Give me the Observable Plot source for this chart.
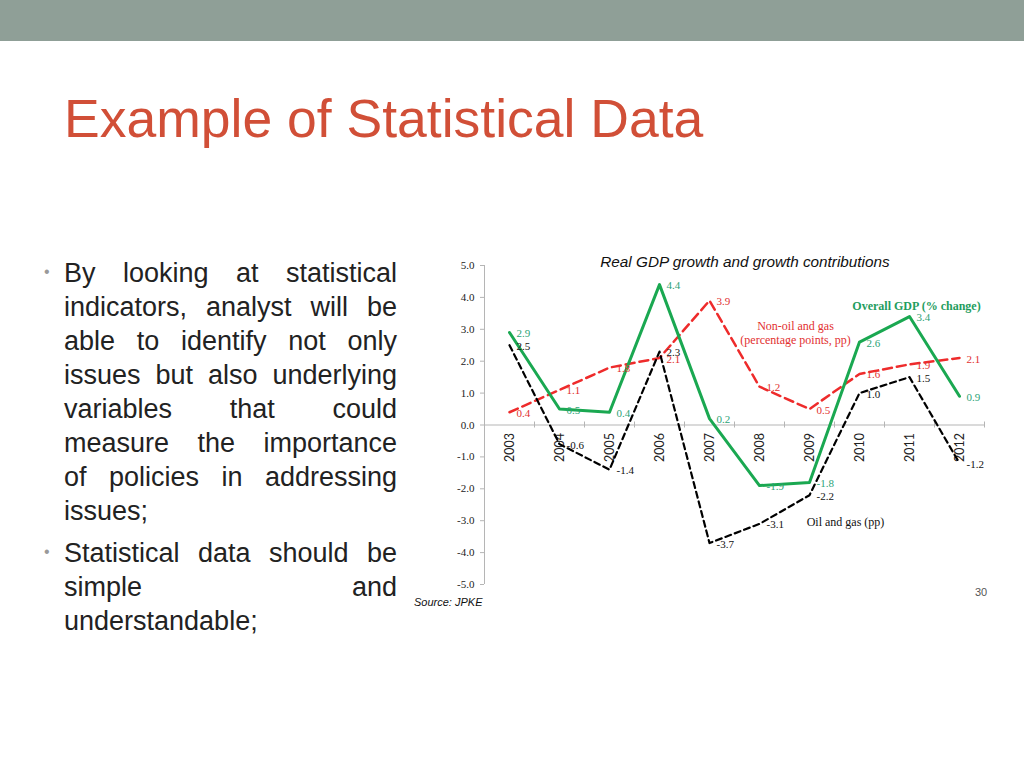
<!DOCTYPE html>
<html>
<head>
<meta charset="utf-8">
<script src="https://cdn.jsdelivr.net/npm/d3@7"></script>
<script src="https://cdn.jsdelivr.net/npm/@observablehq/plot@0.6"></script>
<style>
  html, body { margin: 0; padding: 0; background: #fff; }
  #page { position: relative; width: 1024px; height: 768px; overflow: hidden; background: #fff; }
  #band { position: absolute; left: 0; top: 0; width: 1024px; height: 41px; background: #8f9f97; }
  #title { position: absolute; left: 64px; top: 92px; font-family: "Liberation Sans", Arial, sans-serif; font-size: 53.5px; line-height: 53px; color: #d14f37; white-space: nowrap; }
  .para { position: absolute; left: 64px; width: 333px; font-family: "Liberation Sans", Arial, sans-serif; font-size: 27px; line-height: 34px; color: #222; }
  .para .ln { text-align: justify; text-align-last: justify; white-space: nowrap; }
  .para .ln.last { text-align-last: left; }
  .bullet { position: absolute; left: 44px; font-family: "Liberation Sans", Arial, sans-serif; font-size: 16px; color: #999; }
  #ctitle { position: absolute; left: 545px; width: 400px; top: 253px; text-align: center; font-family: "Liberation Sans", Arial, sans-serif; font-style: italic; font-size: 15.3px; color: #111; }
  #source { position: absolute; left: 414px; top: 596px; font-family: "Liberation Sans", Arial, sans-serif; font-style: italic; font-size: 11px; color: #111; }
  #pnum { position: absolute; left: 975px; top: 586px; font-family: "Liberation Sans", Arial, sans-serif; font-size: 11px; color: #555; }
  #chart { position: absolute; left: 400px; top: 250px; }
</style>
</head>
<body>
<div id="page">
  <div id="band"></div>
  <div id="title">Example of Statistical Data</div>
  <div class="bullet" style="top:263px">•</div>
  <div class="para" style="top:256px">
    <div class="ln">By looking at statistical</div>
    <div class="ln">indicators, analyst will be</div>
    <div class="ln">able to identify not only</div>
    <div class="ln">issues but also underlying</div>
    <div class="ln">variables that could</div>
    <div class="ln">measure the importance</div>
    <div class="ln">of policies in addressing</div>
    <div class="ln last">issues;</div>
  </div>
  <div class="bullet" style="top:543px">•</div>
  <div class="para" style="top:536px">
    <div class="ln">Statistical data should be</div>
    <div class="ln">simple and</div>
    <div class="ln last">understandable;</div>
  </div>
  <div id="ctitle">Real GDP growth and growth contributions</div>
  <div id="chart"></div>
  <div id="source">Source: JPKE</div>
  <div id="pnum">30</div>
</div>
<script>
const years = [2003, 2004, 2005, 2006, 2007, 2008, 2009, 2010, 2011, 2012];
const overallGDP = [2.9, 0.5, 0.4, 4.4, 0.2, -1.9, -1.8, 2.6, 3.4, 0.9];
const nonOilGas = [0.4, 1.1, 1.8, 2.1, 3.9, 1.2, 0.5, 1.6, 1.9, 2.1];
const oilGas = [2.5, -0.6, -1.4, 2.3, -3.7, -3.1, -2.2, 1.0, 1.5, -1.2];
const yTicks = [-5, -4, -3, -2, -1, 0, 1, 2, 3, 4, 5];

const seriesNames = ["Non-oil and gas", "Oil and gas", "Overall GDP"];
const seriesValues = [nonOilGas, oilGas, overallGDP];
const seriesLineColors = ["#ee2b2b", "#000000", "#1aa851"];
const seriesLabelColors = ["#e2302f", "#111111", "#2ca377"];

// series annotations (year, value positions in data space)
const annotations = [
  {year: 2011.14, value: 3.75, text: "Overall GDP (% change)", color: "#1f9d5e", weight: "bold"},
  {year: 2008.72, value: 2.9, text: "Non-oil and gas\n(percentage points, pp)", color: "#e2302f", weight: "normal"},
  {year: 2009.72, value: -3.03, text: "Oil and gas (pp)", color: "#111111", weight: "normal"}
];

const rows = [];
seriesNames.forEach((s, i) => years.forEach((y, j) => rows.push({series: s, year: y, value: seriesValues[i][j], idx: i})));
const bounds = d3.range(years.length + 1).map(i => years[0] - 0.5 + i);

const serif = "'Liberation Serif', 'DejaVu Serif', serif";

const lineStyle = [
  {strokeWidth: 2.5, strokeDasharray: "9,5"},
  {strokeWidth: 2.2, strokeDasharray: "6,4"},
  {strokeWidth: 3, strokeDasharray: null}
];

const marks = [
  Plot.ruleX([bounds[0]], {y1: -5, y2: 5, stroke: "#b5b5b5", strokeWidth: 1}),
  Plot.ruleY([0], {x1: bounds[0], x2: bounds[bounds.length - 1], stroke: "#b5b5b5", strokeWidth: 1.2}),
  Plot.ruleX(bounds, {x: d => d, y1: 0, y2: 0, insetTop: -3, insetBottom: -3, stroke: "#b5b5b5"}),
  Plot.ruleY(yTicks, {y: d => d, x1: bounds[0], x2: bounds[0], insetLeft: -4, stroke: "#b5b5b5"}),
  Plot.text(yTicks, {x: bounds[0], y: d => d, text: d => d.toFixed(1), dx: -10, textAnchor: "end", fontFamily: serif, fontSize: 11, fill: "#222"}),
  Plot.text(years, {x: d => d, y: 0, text: d => String(d), rotate: -90, textAnchor: "end", dy: 8, fontFamily: "Lato, 'Open Sans', sans-serif", fontSize: 12.5, fill: "#222"})
];
seriesNames.forEach((s, i) => {
  marks.push(Plot.line(rows.filter(r => r.idx === i), {x: "year", y: "value", stroke: seriesLineColors[i], strokeWidth: lineStyle[i].strokeWidth, strokeDasharray: lineStyle[i].strokeDasharray}));
});
seriesNames.forEach((s, i) => {
  marks.push(Plot.text(rows.filter(r => r.idx === i), {x: "year", y: "value", text: d => d.value.toFixed(1), dx: 7, dy: 1, textAnchor: "start", fontFamily: serif, fontSize: 11, fill: seriesLabelColors[i]}));
});
annotations.forEach(a => {
  marks.push(Plot.text([a], {x: "year", y: "value", text: "text", fill: a.color, fontWeight: a.weight, fontFamily: serif, fontSize: 12, lineHeight: 1.2}));
});

const chart = Plot.plot({
  width: 600,
  height: 360,
  marginLeft: 84,
  marginRight: 16,
  marginTop: 15,
  marginBottom: 26,
  x: {domain: [bounds[0], bounds[bounds.length - 1]], axis: null},
  y: {domain: [-5, 5], axis: null},
  style: {background: "transparent", overflow: "visible"},
  marks
});
document.getElementById("chart").appendChild(chart);
</script>
</body>
</html>
